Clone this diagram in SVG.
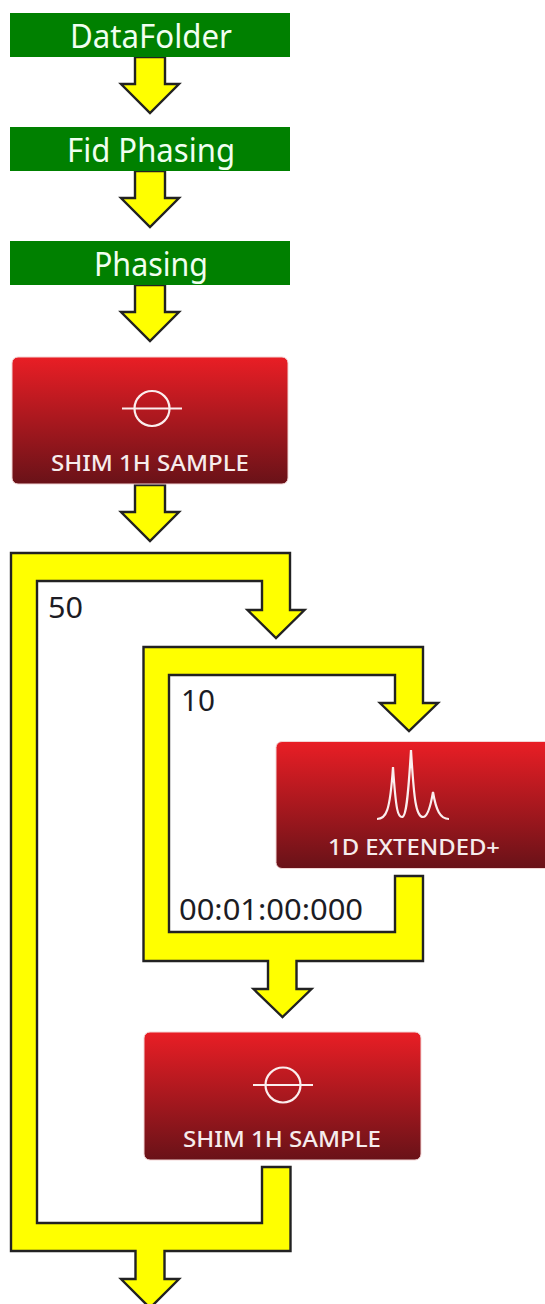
<svg xmlns="http://www.w3.org/2000/svg" width="545" height="1304" viewBox="0 0 545 1304">
<style>
.c{fill:#ff0;stroke:#222;stroke-width:2.4;stroke-linejoin:miter}
.g{fill:#008000}
.r{fill:url(#rg);stroke:#f3d5d5;stroke-width:1}
.gt{font:32px "Noto Sans","Open Sans",sans-serif;fill:#f0fff0;text-anchor:middle}
.rt{font:500 21.5px "Noto Sans","Open Sans",sans-serif;fill:#f6ecec;text-anchor:middle}
.lb{font:29px "Noto Sans","Open Sans",sans-serif;fill:#1c1c24}
.ic{fill:none;stroke:#fbeeee;stroke-width:2.2}
</style>
<defs>
<linearGradient id="rg" x1="0" y1="0" x2="0" y2="1"><stop offset="0" stop-color="#e91e25"/><stop offset="1" stop-color="#691218"/></linearGradient>
<path id="a" d="M-15 0H15V27H29L0 56L-29 27H-15Z"/>
<g id="shim"><circle cx="0" cy="0" r="17.500" class="ic"/><path d="M-30 0H30" class="ic"/></g>
</defs>
<g id="connectors">
<use href="#a" x="150" y="57" class="c"/>
<use href="#a" x="150" y="171" class="c"/>
<use href="#a" x="150" y="285" class="c"/>
<use href="#a" x="150" y="485" class="c"/>
<path class="c" d="M11 553H290V610H304.500L276 638L247.500 610H262V581H37V1223H262V1167H290.500V1251H164.500V1279H179L150 1308L121 1279H135.500V1251H11Z"/>
<path class="c" d="M143.500 647H423V703H438L409 731L380 703H395V675H169V932H395V876H423V961H296.500V989H311.500L282.500 1017L253.500 989H268V961H143.500Z"/>
</g>
<g id="node-datafolder"><rect class="g" x="10" y="13" width="280" height="44"/><text class="gt" x="151" y="48" textLength="162" lengthAdjust="spacingAndGlyphs">DataFolder</text></g>
<g id="node-fid-phasing"><rect class="g" x="10" y="127" width="280" height="44"/><text class="gt" x="151" y="162" textLength="168" lengthAdjust="spacingAndGlyphs">Fid Phasing</text></g>
<g id="node-phasing"><rect class="g" x="10" y="241" width="280" height="44"/><text class="gt" x="151" y="276" textLength="114" lengthAdjust="spacingAndGlyphs">Phasing</text></g>
<g id="node-shim-1"><rect class="r" x="12" y="357" width="276" height="127" rx="6"/><use href="#shim" x="152" y="408.500"/><text class="rt" x="150" y="471" textLength="198" lengthAdjust="spacingAndGlyphs">SHIM 1H SAMPLE</text></g>
<g id="node-1d-extended"><rect class="r" x="276" y="741.500" width="275" height="127" rx="6"/><path class="ic" d="M377 819C386 819 390 812 393 767C396 812 398 817 402 817C406 817 408 800 411 750C414 800 416 817 423 817C427 817 430 810 433 792C436 810 440 819 449 819"/><text class="rt" x="414" y="855" textLength="172" lengthAdjust="spacingAndGlyphs">1D EXTENDED+</text></g>
<g id="node-shim-2"><rect class="r" x="144" y="1032" width="277" height="128" rx="6"/><use href="#shim" x="283" y="1085"/><text class="rt" x="282" y="1147" textLength="198" lengthAdjust="spacingAndGlyphs">SHIM 1H SAMPLE</text></g>
<text class="lb" x="48" y="618" textLength="35" lengthAdjust="spacingAndGlyphs">50</text>
<text class="lb" x="181" y="711" textLength="34" lengthAdjust="spacingAndGlyphs">10</text>
<text class="lb" x="179" y="920" textLength="184" lengthAdjust="spacingAndGlyphs">00:01:00:000</text>
</svg>
